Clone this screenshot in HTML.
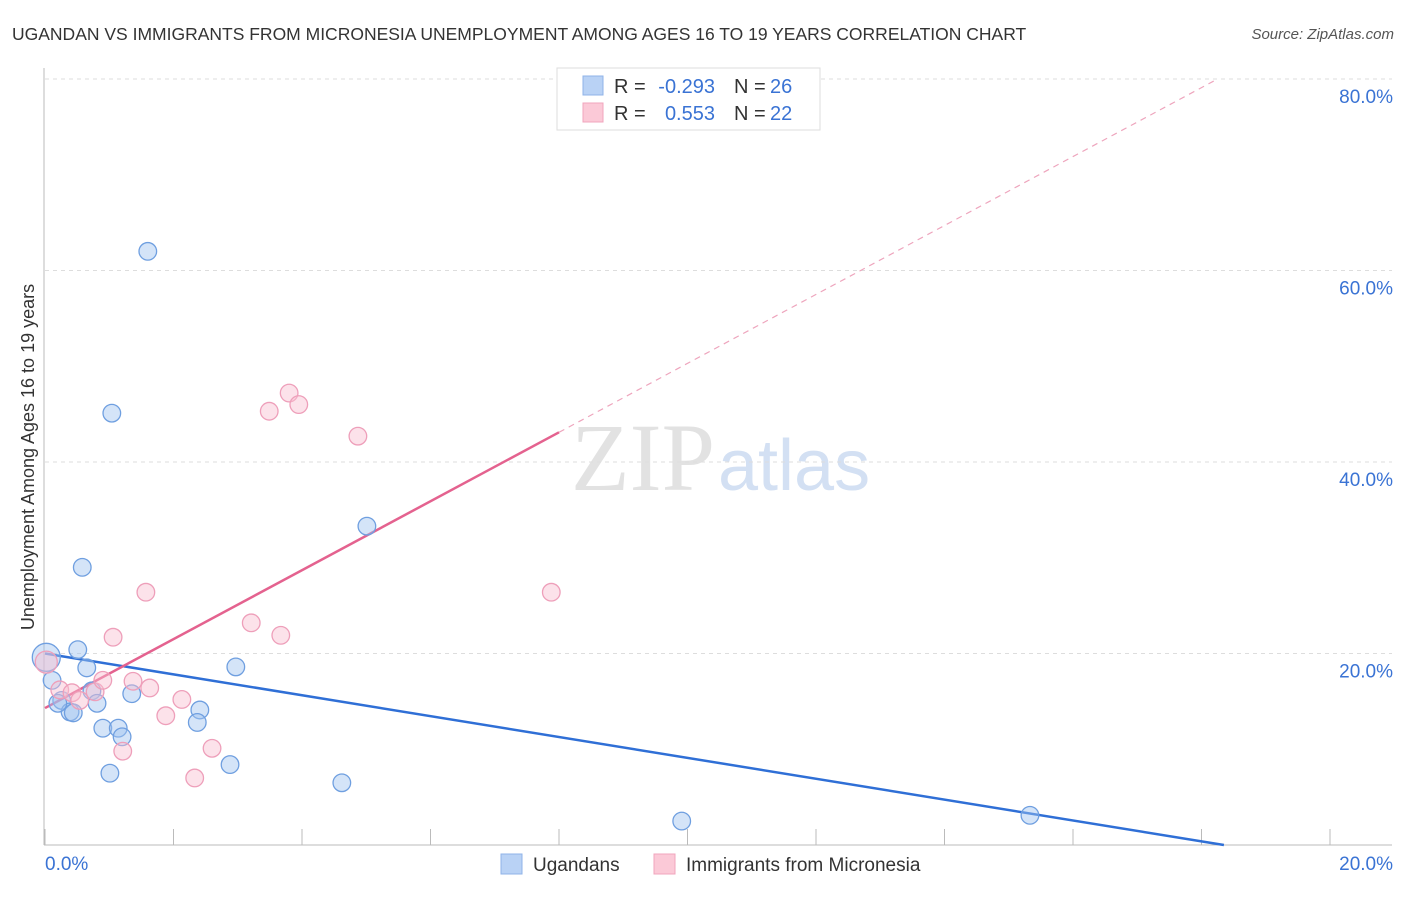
<!DOCTYPE html>
<html><head><meta charset="utf-8"><style>
body{margin:0;background:#fff;font-family:"Liberation Sans",sans-serif}
</style></head><body>
<svg width="1406" height="892" xmlns="http://www.w3.org/2000/svg" style="font-family:'Liberation Sans',sans-serif">
<text x="12" y="40" font-size="17.5" fill="#333">UGANDAN VS IMMIGRANTS FROM MICRONESIA UNEMPLOYMENT AMONG AGES 16 TO 19 YEARS CORRELATION CHART</text>
<text x="1394" y="39" font-size="15" fill="#555" font-style="italic" text-anchor="end">Source: ZipAtlas.com</text>
<text x="715" y="490" font-size="96" fill="#e2e2e2" font-family="Liberation Serif" text-anchor="end">ZIP</text>
<text x="718" y="490" font-size="72" fill="#d3e0f3">atlas</text>
<g id="grid"></g><g id="axes"></g><g id="lines"></g><g id="pts"></g>
<text transform="translate(34,457) rotate(-90)" font-size="18" fill="#333" text-anchor="middle">Unemployment Among Ages 16 to 19 years</text>
<g>
<rect x="557" y="68" width="263" height="62" fill="#fff" stroke="#ddd"/>
<rect x="583" y="76" width="20" height="19" fill="#b9d2f5" stroke="#8fb3e8"/>
<rect x="583" y="103" width="20" height="19" fill="#fbc9d7" stroke="#f0a5bc"/>
<text x="614" y="93" font-size="20" fill="#333">R =</text>
<text x="715" y="93" font-size="20" fill="#3a73d4" text-anchor="end">-0.293</text>
<text x="734" y="93" font-size="20" fill="#333">N =</text>
<text x="770" y="93" font-size="20" fill="#3a73d4">26</text>
<text x="614" y="120" font-size="20" fill="#333">R =</text>
<text x="715" y="120" font-size="20" fill="#3a73d4" text-anchor="end">0.553</text>
<text x="734" y="120" font-size="20" fill="#333">N =</text>
<text x="770" y="120" font-size="20" fill="#3a73d4">22</text>
</g>
<g>
<rect x="501" y="854" width="21" height="20" fill="#b9d2f5" stroke="#8fb3e8"/>
<text x="533" y="871" font-size="19" fill="#333">Ugandans</text>
<rect x="654" y="854" width="21" height="20" fill="#fbc9d7" stroke="#f0a5bc"/>
<text x="686" y="871" font-size="19" fill="#333">Immigrants from Micronesia</text>
</g>
</svg>
<script>
const xTicks=[0,2,4,6,8,10,12,14,16,18,20];
const yTicks=[20,40,60,80];
const yTickLabels=["20.0%","40.0%","60.0%","80.0%"];
const blueX=[0.02,1.6,1.04,5.01,0.58,0.51,2.97,0.11,0.65,0.73,1.35,0.26,0.81,0.39,0.44,2.41,2.37,0.9,1.14,1.2,2.88,1.01,4.62,9.91,15.33,0.2];
const blueY=[19.6,62,45.1,33.3,29.0,20.4,18.6,17.2,18.5,16.1,15.8,15.1,14.8,13.9,13.8,14.1,12.8,12.2,12.2,11.3,8.4,7.5,6.5,2.5,3.1,14.8];
const pinkX=[3.49,3.8,3.95,4.87,7.88,1.57,1.06,3.21,3.67,0.02,0.23,0.42,0.78,0.9,1.37,1.63,2.13,1.88,2.6,1.21,2.33,0.54];
const pinkY=[45.3,47.2,46.0,42.7,26.4,26.4,21.7,23.2,21.9,19.1,16.2,15.9,16.0,17.2,17.1,16.4,15.2,13.5,10.1,9.8,7.0,15.1];
const blueFit=[20.0,-1.09];
const pinkFit=[14.3,3.6];
const X=v=>45+v*64.25, Y=v=>845-v*9.575;
const NS="http://www.w3.org/2000/svg";
function mk(p,t,a){const e=document.createElementNS(NS,t);for(const k in a)e.setAttribute(k,a[k]);document.getElementById(p).appendChild(e);return e;}
yTicks.forEach((t,i)=>{
 const g=mk('grid','line',{x1:45,x2:1392,y1:Y(t),y2:Y(t),stroke:'#ddd','stroke-dasharray':'4,4'});
 
 
 const l=mk('axes','text',{x:1393,y:Y(t)+24,'font-size':19,fill:'#3a73d4','text-anchor':'end'});
 l.textContent=yTickLabels[i];
 
 
});
const ax=mk('axes','line',{x1:44,x2:44,y1:68,y2:845,stroke:'#bbb'});


const bx=mk('axes','line',{x1:44,x2:1392,y1:845,y2:845,stroke:'#bbb'});


xTicks.forEach(t=>{
 const k=mk('axes','line',{x1:X(t),x2:X(t),y1:829,y2:845,stroke:'#bbb'});
 
 
});
const xl0=mk('axes','text',{x:45,y:870,'font-size':19,fill:'#3a73d4'});xl0.textContent="0.0%";


const xl1=mk('axes','text',{x:1393,y:870,'font-size':19,fill:'#3a73d4','text-anchor':'end'});xl1.textContent="20.0%";


const bEnd=-blueFit[0]/blueFit[1];
const bl=mk('lines','line',{x1:X(0),y1:Y(blueFit[0]),x2:X(bEnd),y2:Y(0),stroke:'#2f6fd6','stroke-width':2.5});


const pEnd=8, pDash=(80-pinkFit[0])/pinkFit[1];
const pl=mk('lines','line',{x1:X(0),y1:Y(pinkFit[0]),x2:X(pEnd),y2:Y(pinkFit[0]+pinkFit[1]*pEnd),stroke:'#e4628f','stroke-width':2.5});


const pd=mk('lines','line',{x1:X(pEnd),y1:Y(pinkFit[0]+pinkFit[1]*pEnd),x2:X(pDash),y2:Y(80),stroke:'#eea5bd','stroke-width':1.2,'stroke-dasharray':'6,5'});


blueX.forEach((v,i)=>{
 const c=mk('pts','circle',{cx:X(v),cy:Y(blueY[i]),r:i===0?14:8.8,fill:'rgba(160,196,240,0.45)',stroke:'#6f9fe0','stroke-width':1.3});
 
 
});
pinkX.forEach((v,i)=>{
 const c=mk('pts','circle',{cx:X(v),cy:Y(pinkY[i]),r:i===9?11:8.8,fill:'rgba(248,190,208,0.45)',stroke:'#ee9fba','stroke-width':1.3});
 
 
});
</script>
</body></html>
